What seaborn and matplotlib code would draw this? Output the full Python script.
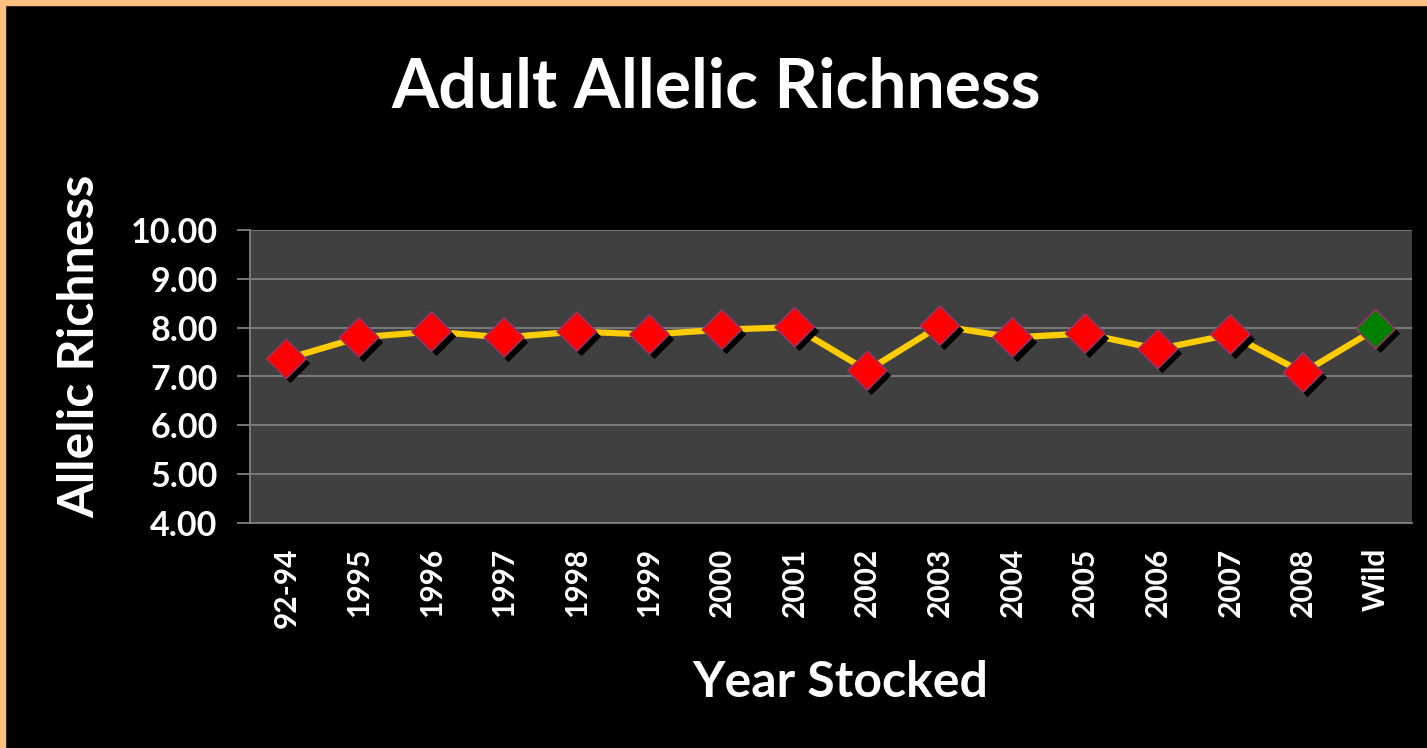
import matplotlib
matplotlib.use("Agg")
import matplotlib.pyplot as plt
from matplotlib.patches import Rectangle
from matplotlib.transforms import ScaledTranslation
import seaborn as sns
import pandas as pd

# data
years = ["92-94", "1995", "1996", "1997", "1998", "1999", "2000", "2001",
         "2002", "2003", "2004", "2005", "2006", "2007", "2008", "Wild"]
richness = [7.36, 7.80, 7.92, 7.80, 7.92, 7.86, 7.96, 8.01,
            7.12, 8.04, 7.80, 7.88, 7.56, 7.86, 7.08, 7.97]
groups = ["Stocked"] * 15 + ["Wild"]
y_ticks = [4, 5, 6, 7, 8, 9, 10]

df = pd.DataFrame({"year": years, "richness": richness, "group": groups})

sns.set_style("dark")
plt.rcParams["font.family"] = ["Lato", "DejaVu Sans"]
plt.rcParams["font.weight"] = "bold"

fig = plt.figure(figsize=(14.27, 7.48), dpi=100, facecolor="black")
ax = fig.add_axes([250 / 1427, 1 - 523 / 748, (1412 - 250) / 1427, (523 - 230) / 748])
ax.set_facecolor("#404040")

# orange frame on top and left
fig.patches.append(Rectangle((0, 1 - 5 / 748), 1, 5 / 748, transform=fig.transFigure,
                             color="#FFC080", zorder=10))
fig.patches.append(Rectangle((0, 0), 5 / 1427, 1, transform=fig.transFigure,
                             color="#FFC080", zorder=10))

sns.lineplot(data=df, x="year", y="richness", color="#FFCC00", lw=4.5,
             sort=False, ax=ax, zorder=3)

shadow = ax.transData + ScaledTranslation(3 / 72, -3 / 72, fig.dpi_scale_trans)
sns.scatterplot(data=df, x="year", y="richness", marker="D", s=400, color="black",
                linewidth=0, transform=shadow, ax=ax, zorder=4, legend=False)
sns.scatterplot(data=df, x="year", y="richness", hue="group", marker="D", s=400,
                palette={"Stocked": "#FF0000", "Wild": "#008000"},
                edgecolor="#993366", linewidth=1.2, ax=ax, zorder=5, legend=False)

ax.set_xlim(-0.5, len(years) - 0.5)
ax.set_ylim(4, 10)
ax.set_yticks(y_ticks)
ax.set_yticklabels([f"{v:.2f}" for v in y_ticks])
ax.grid(axis="y", color="#808080", lw=1.3)
ax.grid(axis="x", visible=False)
ax.set_axisbelow(True)

for side in ["top", "right"]:
    ax.spines[side].set_visible(False)
for side in ["left", "bottom"]:
    ax.spines[side].set_visible(True)
    ax.spines[side].set_color("#808080")
    ax.spines[side].set_linewidth(1.3)

ax.tick_params(axis="y", colors="white", labelsize=24.5, length=9.4, width=1.3,
               color="#808080", pad=14, left=True)
ax.tick_params(axis="x", colors="white", labelsize=21.5, length=0, pad=18,
               labelrotation=90)
for lbl in ax.get_xticklabels() + ax.get_yticklabels():
    lbl.set_fontweight("bold")

ax.set_xlabel("")
ax.set_ylabel("")

fig.text(0.5018, 1 - 107 / 748, "Adult Allelic Richness", color="white",
         fontsize=49, fontweight="bold", ha="center", va="baseline")
fig.text(80 / 1427, 1 - 346 / 748, "Allelic Richness", color="white",
         fontsize=36, fontweight="bold", rotation=90, ha="center", va="center")
fig.text(840 / 1427, 1 - 697 / 748, "Year Stocked", color="white",
         fontsize=36, fontweight="bold", ha="center", va="baseline")

fig.savefig("out.png", dpi=100, facecolor="black")
